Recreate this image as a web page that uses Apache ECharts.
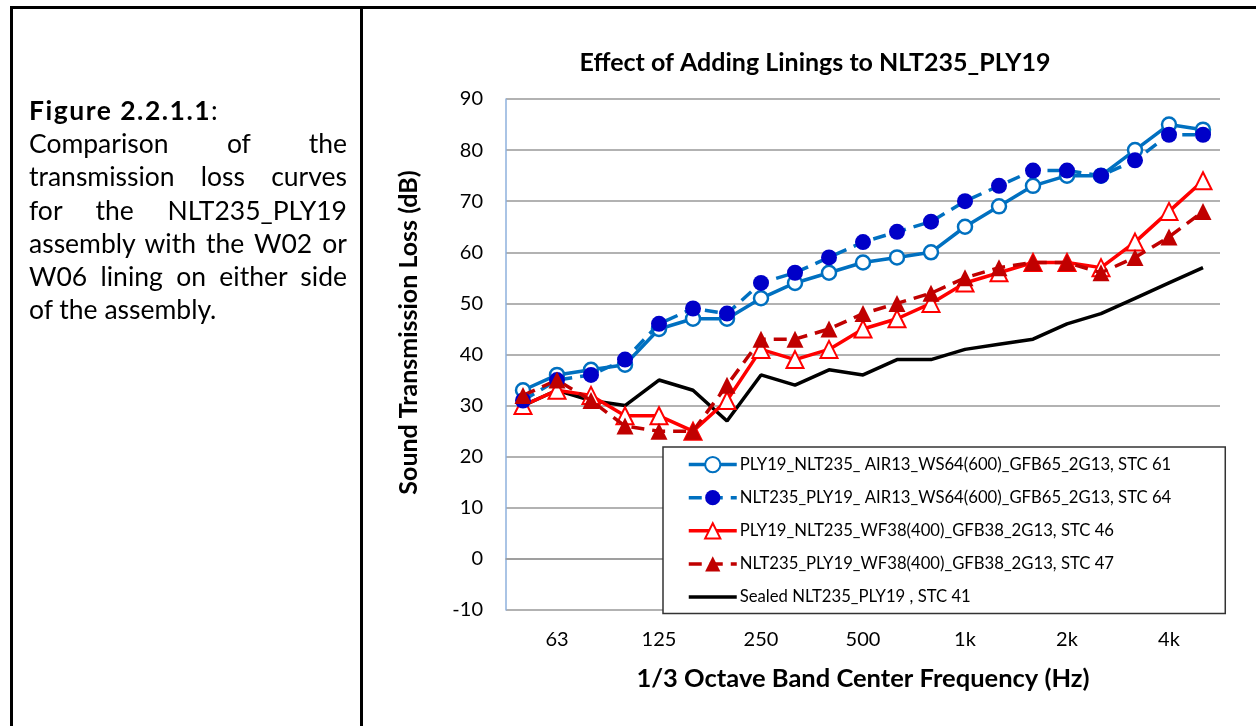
<!DOCTYPE html>
<html>
<head>
<meta charset="utf-8">
<script src="https://cdn.jsdelivr.net/npm/echarts@6/dist/echarts.min.js"></script>
<style>
  html, body { margin: 0; padding: 0; background: #fff; }
  .page { position: relative; width: 1256px; height: 726px; overflow: hidden; }
  .frame-top { position: absolute; left: 10px; top: 6px; width: 1246px; height: 3px; background: #000; }
  .frame-left { position: absolute; left: 10px; top: 6px; width: 3px; height: 720px; background: #000; }
  .frame-mid { position: absolute; left: 360px; top: 6px; width: 3px; height: 720px; background: #000; }
  .caption {
    position: absolute; left: 29px; top: 94px; width: 318px;
    font-family: Lato, "Open Sans", sans-serif; font-size: 26.5px; line-height: 33.2px; color: #000;
  }
  .caption div { white-space: nowrap; }
  .caption b { letter-spacing: 1.5px; }
  .caption .j { text-align: justify; text-align-last: justify; white-space: normal; }
  #chart { position: absolute; left: 0; top: 0; width: 1256px; height: 726px; }
</style>
</head>
<body>
<div class="page">
  <div id="chart"></div>
  <div class="frame-top"></div>
  <div class="frame-left"></div>
  <div class="frame-mid"></div>
  <div class="caption">
    <div><b>Figure 2.2.1.1</b>:</div>
    <div class="j">Comparison of the</div>
    <div class="j">transmission loss curves</div>
    <div class="j">for the NLT235_PLY19</div>
    <div class="j">assembly with the W02 or</div>
    <div class="j">W06 lining on either side</div>
    <div>of the assembly.</div>
  </div>
</div>
<script>
  // 1/3 倍频程中心频率
  const freqs = ['50', '63', '80', '100', '125', '160', '200', '250', '315', '400', '500',
    '630', '800', '1000', '1250', '1600', '2000', '2500', '3150', '4000', '5000'];
  // 只显示这些刻度标签
  const tickLabels = { '63': '63', '125': '125', '250': '250', '500': '500', '1000': '1k', '2000': '2k', '4000': '4k' };

  const names = [
    'PLY19_NLT235_ AIR13_WS64(600)_GFB65_2G13, STC 61',
    'NLT235_PLY19_ AIR13_WS64(600)_GFB65_2G13, STC 64',
    'PLY19_NLT235_WF38(400)_GFB38_2G13, STC 46',
    'NLT235_PLY19_WF38(400)_GFB38_2G13, STC 47',
    'Sealed NLT235_PLY19 , STC 41'
  ];
  const tlAir13Out = [33, 36, 37, 38, 45, 47, 47, 51, 54, 56, 58, 59, 60, 65, 69, 73, 75, 75, 80, 85, 84];
  const tlAir13In = [31, 35, 36, 39, 46, 49, 48, 54, 56, 59, 62, 64, 66, 70, 73, 76, 76, 75, 78, 83, 83];
  const tlWf38Out = [30, 33, 32, 28, 28, 25, 31, 41, 39, 41, 45, 47, 50, 54, 56, 58, 58, 57, 62, 68, 74];
  const tlWf38In = [32, 35, 31, 26, 25, 25, 34, 43, 43, 45, 48, 50, 52, 55, 57, 58, 58, 56, 59, 63, 68];
  const tlSealed = [30, 33, 31, 30, 35, 33, 27, 36, 34, 37, 36, 39, 39, 41, 42, 43, 46, 48, 51, 54, 57];

  const fontFamily = 'Lato, "Open Sans", sans-serif';
  const dash = [13, 8];

  const chart = echarts.init(document.getElementById('chart'));

  const option = {
    animation: false,
    title: {
      text: 'Effect of Adding Linings to NLT235_PLY19',
      left: 810,
      top: 45,
      textAlign: 'center',
      textStyle: { fontFamily, fontSize: 25, fontWeight: 'bold', color: '#000' }
    },
    grid: { left: 506, right: 36, top: 99, bottom: 116 },
    legend: {
      orient: 'vertical',
      left: 663,
      top: 447,
      padding: [9, 54, 8, 24],
      itemWidth: 48,
      itemHeight: 19,
      itemGap: 16,
      backgroundColor: '#fff',
      borderColor: '#333',
      borderWidth: 1.5,
      borderRadius: 0,
      z: 10,
      lineStyle: { width: 3.5 },
      textStyle: { fontFamily, fontSize: 16.7, color: '#000', padding: [0, 0, 0, -2] },
      data: [names[0], names[1], names[2], names[3], { name: names[4], itemStyle: { opacity: 0 } }]
    },
    xAxis: {
      type: 'category',
      data: freqs,
      boundaryGap: true,
      name: '1/3 Octave Band Center Frequency (Hz)',
      nameLocation: 'middle',
      nameGap: 56,
      nameTextStyle: { fontFamily, fontSize: 25.5, fontWeight: 'bold', color: '#000' },
      axisLine: { show: true, lineStyle: { color: '#999', width: 1.5 } },
      axisTick: { show: false },
      axisLabel: {
        interval: (i, v) => tickLabels[v] !== undefined,
        formatter: v => tickLabels[v] || '',
        margin: 20,
        fontFamily, fontSize: 20, color: '#000'
      },
      splitLine: { show: false }
    },
    yAxis: {
      type: 'value',
      min: -10,
      max: 90,
      interval: 10,
      name: 'Sound Transmission Loss (dB)',
      nameLocation: 'middle',
      nameGap: 85,
      nameTextStyle: { fontFamily, fontSize: 25, fontWeight: 'bold', color: '#000', padding: [0, 0, 0, 44] },
      axisLine: { show: true, lineStyle: { color: '#8eb0dd', width: 1.5 } },
      axisTick: { show: false },
      axisLabel: { margin: 23, fontFamily, fontSize: 20, color: '#000' },
      splitLine: { show: true, lineStyle: { color: '#999', width: 1.5 } }
    },
    series: [
      {
        name: names[0], type: 'line', data: tlAir13Out,
        symbol: 'circle', symbolSize: 14, showAllSymbol: true,
        lineStyle: { color: '#0070c0', width: 3.5 },
        itemStyle: { color: '#fff', borderColor: '#0070c0', borderWidth: 2.5 },
        z: 3
      },
      {
        name: names[1], type: 'line', data: tlAir13In,
        symbol: 'circle', symbolSize: 16, showAllSymbol: true,
        lineStyle: { color: '#0070c0', width: 3.5, type: dash },
        itemStyle: { color: '#0000c8', borderColor: '#0000c8', borderWidth: 0 },
        z: 4
      },
      {
        name: names[2], type: 'line', data: tlWf38Out,
        symbol: 'triangle', symbolSize: 17, showAllSymbol: true,
        lineStyle: { color: '#ff0000', width: 3.5 },
        itemStyle: { color: '#fff', borderColor: '#ff0000', borderWidth: 2 },
        z: 3
      },
      {
        name: names[3], type: 'line', data: tlWf38In,
        symbol: 'triangle', symbolSize: 17, showAllSymbol: true,
        lineStyle: { color: '#c00000', width: 3.5, type: dash },
        itemStyle: { color: '#c00000', borderColor: '#c00000', borderWidth: 0 },
        z: 4
      },
      {
        name: names[4], type: 'line', data: tlSealed,
        symbol: 'none',
        lineStyle: { color: '#000', width: 3.5 },
        itemStyle: { color: '#000' },
        z: 2
      }
    ]
  };

  chart.setOption(option);
</script>
</body>
</html>
